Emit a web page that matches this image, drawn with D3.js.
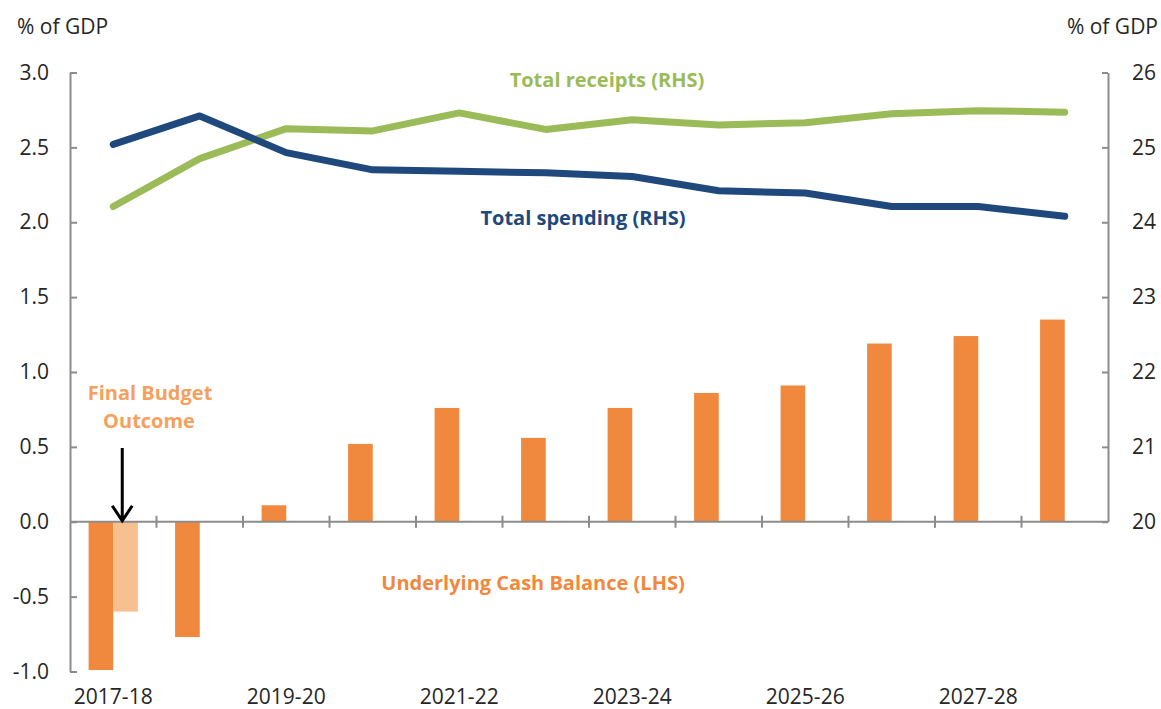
<!DOCTYPE html>
<html>
<head>
<meta charset="utf-8">
<script src="https://cdn.jsdelivr.net/npm/d3@7"></script>
<style>
body { margin: 0; background: #fff; }
svg { display: block; font-family: "Open Sans", sans-serif; }
.axis text { font-size: 21px; fill: #262626; font-family: "Open Sans", sans-serif; }
.axis path, .axis line { stroke: #8c8c8c; stroke-width: 2; }
</style>
</head>
<body>
<svg width="1161" height="709"></svg>
<script>
var years = ["2017-18", "2018-19", "2019-20", "2020-21", "2021-22", "2022-23",
	"2023-24", "2024-25", "2025-26", "2026-27", "2027-28", "2028-29"];
var cashBalance = [-0.99, -0.77, 0.11, 0.52, 0.76, 0.56, 0.76, 0.86, 0.91, 1.19, 1.24, 1.35];
var finalOutcome = [-0.6, null, null, null, null, null, null, null, null, null, null, null];
var receipts = [24.21, 24.85, 25.25, 25.22, 25.46, 25.24, 25.37, 25.30, 25.33, 25.45, 25.49, 25.47];
var spending = [25.04, 25.42, 24.93, 24.70, 24.68, 24.66, 24.61, 24.42, 24.39, 24.21, 24.21, 24.08];
var leftTicks = [-1.0, -0.5, 0.0, 0.5, 1.0, 1.5, 2.0, 2.5, 3.0];
var rightTicks = [20, 21, 22, 23, 24, 25, 26];
var labelledYears = ["2017-18", "2019-20", "2021-22", "2023-24", "2025-26", "2027-28"];

var svg = d3.select("svg"),
	plotLeft = 70,
	plotRight = 1108,
	plotTop = 72.5,
	plotBottom = 671.5;

var x = d3.scaleBand()
	.domain(years)
	.range([plotLeft, plotRight])
	.paddingInner(0.43)
	.paddingOuter(0.215);

var x1 = d3.scaleBand()
	.domain(["ucb", "fbo"])
	.range([0, x.bandwidth()]);

var yL = d3.scaleLinear().domain([-1, 3]).range([plotBottom, plotTop]);
var yR = d3.scaleLinear().domain([20, 26]).range([yL(0), plotTop]);

function mid(d) { return x(d) + x.bandwidth() / 2; }

// bars
svg.append("g")
	.selectAll("rect")
	.data(years.map(function (d, i) { return {year: d, v: cashBalance[i]}; }))
	.enter().append("rect")
	.attr("x", function (d) { return x(d.year) + x1("ucb"); })
	.attr("width", x1.bandwidth())
	.attr("y", function (d) { return Math.min(yL(d.v), yL(0)); })
	.attr("height", function (d) { return Math.abs(yL(d.v) - yL(0)); })
	.attr("fill", "#F0883D");

svg.append("g")
	.selectAll("rect")
	.data(years.map(function (d, i) { return {year: d, v: finalOutcome[i]}; })
		.filter(function (d) { return d.v != null; }))
	.enter().append("rect")
	.attr("x", function (d) { return x(d.year) + x1("fbo"); })
	.attr("width", x1.bandwidth())
	.attr("y", function (d) { return Math.min(yL(d.v), yL(0)); })
	.attr("height", function (d) { return Math.abs(yL(d.v) - yL(0)); })
	.attr("fill", "#F9C08F");

// axes
var fmt = d3.format(".1f");
svg.append("g")
	.attr("class", "axis")
	.attr("transform", "translate(" + plotLeft + ",0)")
	.call(d3.axisLeft(yL).tickValues(leftTicks)
		.tickFormat(function (d) { return fmt(d).replace("\u2212", "-"); })
		.tickSizeInner(-7).tickSizeOuter(0).tickPadding(21));

svg.append("g")
	.attr("class", "axis")
	.attr("transform", "translate(" + plotRight + ",0)")
	.call(d3.axisRight(yR).tickValues(rightTicks).tickFormat(d3.format("d"))
		.tickSizeInner(-6).tickSizeOuter(0).tickPadding(24));

// category axis at zero
var xAxis = svg.append("g").attr("class", "axis");
xAxis.append("line")
	.attr("x1", plotLeft).attr("x2", plotRight)
	.attr("y1", yL(0)).attr("y2", yL(0));
xAxis.selectAll(".sep")
	.data(years.slice(1))
	.enter().append("line")
	.attr("class", "sep")
	.attr("x1", function (d) { return x(d) - (x.step() - x.bandwidth()) / 2; })
	.attr("x2", function (d) { return x(d) - (x.step() - x.bandwidth()) / 2; })
	.attr("y1", yL(0) - 6)
	.attr("y2", yL(0) + 6);
xAxis.selectAll("text")
	.data(labelledYears)
	.enter().append("text")
	.attr("x", mid)
	.attr("y", 704)
	.attr("text-anchor", "middle")
	.text(function (d) { return d; });

// lines
var line = d3.line()
	.x(function (d, i) { return mid(years[i]); })
	.y(function (d) { return yR(d); });

svg.append("path")
	.datum(receipts)
	.attr("fill", "none")
	.attr("stroke", "#9BBB59")
	.attr("stroke-width", 7)
	.attr("stroke-linejoin", "round")
	.attr("stroke-linecap", "round")
	.attr("d", line);

svg.append("path")
	.datum(spending)
	.attr("fill", "none")
	.attr("stroke", "#1F497D")
	.attr("stroke-width", 7)
	.attr("stroke-linejoin", "round")
	.attr("stroke-linecap", "round")
	.attr("d", line);

// axis titles
svg.append("text")
	.attr("x", 17).attr("y", 34)
	.attr("font-size", 21).attr("fill", "#262626")
	.text("% of GDP");
svg.append("text")
	.attr("x", 1158).attr("y", 34)
	.attr("text-anchor", "end")
	.attr("font-size", 21).attr("fill", "#262626")
	.text("% of GDP");

// series labels
var labels = [
	{t: "Total receipts (RHS)", x: 607, y: 87, c: "#9BBB59"},
	{t: "Total spending (RHS)", x: 583, y: 225, c: "#1F497D"},
	{t: "Underlying Cash Balance (LHS)", x: 533, y: 590, c: "#F0883D"},
	{t: "Final Budget", x: 150, y: 400, c: "#F5A05E"},
	{t: "Outcome", x: 149, y: 428, c: "#F5A05E"}
];
svg.append("g")
	.selectAll("text")
	.data(labels)
	.enter().append("text")
	.attr("x", function (d) { return d.x; })
	.attr("y", function (d) { return d.y; })
	.attr("text-anchor", "middle")
	.attr("font-size", 20)
	.attr("font-weight", "bold")
	.attr("fill", function (d) { return d.c; })
	.text(function (d) { return d.t; });

// arrow to the final budget outcome bar
var ax = x(years[0]) + x1("fbo") + 9,
	ay = yL(0);
svg.append("path")
	.attr("d", "M" + ax + "," + 448 + "V" + (ay - 1) +
		"M" + (ax - 10) + "," + (ay - 16) + "L" + ax + "," + (ay - 1) + "L" + (ax + 10) + "," + (ay - 16))
	.attr("fill", "none")
	.attr("stroke", "#000")
	.attr("stroke-width", 3);
</script>
</body>
</html>
